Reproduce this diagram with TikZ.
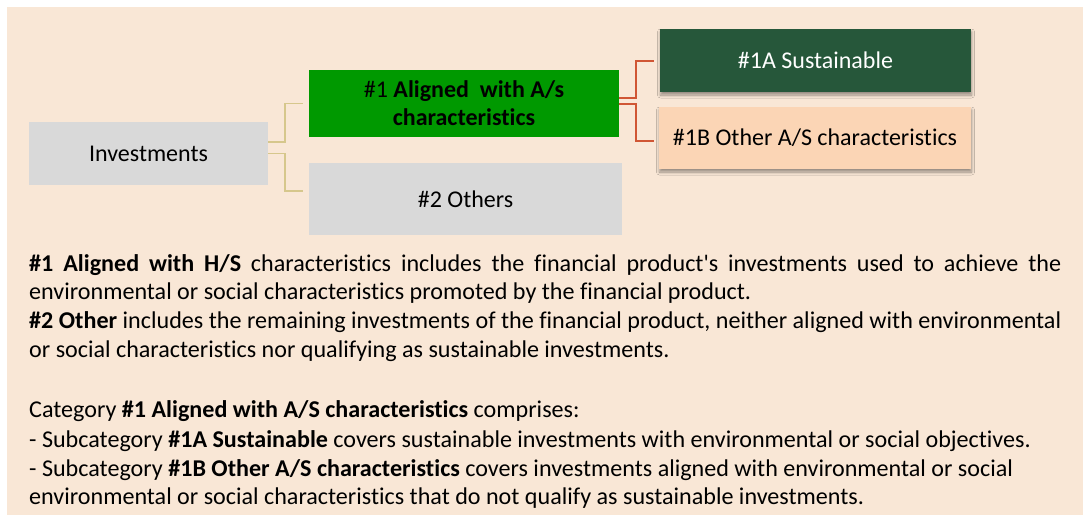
\documentclass[tikz,border=0pt]{standalone}
\usepackage{fontspec}
\setmainfont{Carlito}[Ligatures={NoCommon}]
\usetikzlibrary{shadows.blur,calc}
\definecolor{bgpeach}{HTML}{F9E7D6}
\definecolor{boxgrey}{HTML}{D9D9D9}
\definecolor{boxgreen}{HTML}{009900}
\definecolor{darkgreen}{HTML}{26573A}
\definecolor{lightpeach}{HTML}{FBD5B5}
\definecolor{tanline}{HTML}{D6C78C}
\definecolor{redline}{HTML}{D05634}
\tikzset{
  boxnode/.style={inner sep=0pt, align=center, font=\fontsize{24}{28}\selectfont},
  shadowed/.style={blur shadow={shadow xshift=0.5pt, shadow yshift=-3pt, shadow blur steps=6, shadow blur radius=3pt, shadow opacity=40}},
  bodyline/.style={inner sep=0pt, anchor=base west, font=\fontsize{24.1}{29}\selectfont},
  tanconn/.style={draw=tanline, line width=1.5pt},
  redconn/.style={draw=redline, line width=2pt},
}
\begin{document}
\begin{tikzpicture}[x=1pt,y=-1pt]
\useasboundingbox (0,0) rectangle (1083,515);
\fill[white] (0,0) rectangle (1083,515);
\fill[bgpeach] (7,7) rectangle (1083,515);

% boxes
\node[boxnode, fill=boxgrey, minimum width=239pt, minimum height=63pt] (inv) at (148.5,153.5) {Investments};
\node[boxnode, fill=boxgreen, minimum width=310pt, minimum height=67pt] (a1) at (464,103.5) {\#1 \textbf{Aligned\ \ with A/s}\\\textbf{characteristics}};
\node[boxnode, fill=boxgrey, minimum width=313pt, minimum height=72pt] (o2) at (465.5,199) {\#2 Others};
\node[boxnode, shadowed, fill=darkgreen, text=white, minimum width=311pt, minimum height=63pt] (s1) at (815.5,60.5) {\#1A Sustainable};
\node[boxnode, shadowed, fill=lightpeach, minimum width=312pt, minimum height=62pt] (b1) at (815,138) {\#1B Other A/S characteristics};

% connectors
\draw[tanconn] ([yshift=11.5pt]inv.east) -- ++(17,0) |- ([xshift=-6pt]a1.west);
\draw[tanconn] (inv.east) -- ++(17,0) |- ([xshift=-6pt,yshift=8pt]o2.west);
\draw[redconn] ([yshift=5.5pt]a1.east) -- ++(17,0) |- ([xshift=-6pt]s1.west);
\draw[redconn] (a1.east) -- ++(17,0) |- ([xshift=-5pt,yshift=-3pt]b1.west);

% body text
\node[bodyline] (t1) at (29,271) {\makebox[1032pt][s]{\textbf{\#1 Aligned with H/S} characteristics includes the financial product\textquotesingle s investments used to achieve the}};
\node[bodyline] (t2) at (29,299) {environmental or social characteristics promoted by the financial product.};
\node[bodyline] (t3) at (29,328) {\makebox[1032pt][s]{\textbf{\#2 Other} includes the remaining investments of the financial product, neither aligned with environmental}};
\node[bodyline] (t4) at (29,357) {or social characteristics nor qualifying as sustainable investments.};
\node[bodyline] (t5) at (29,417) {Category \textbf{\#1 Aligned with A/S characteristics} comprises:};
\node[bodyline] (t6) at (29,447) {- Subcategory \textbf{\#1A Sustainable} covers sustainable investments with environmental or social objectives.};
\node[bodyline] (t7) at (29,476) {- Subcategory \textbf{\#1B Other A/S characteristics} covers investments aligned with environmental or social};
\node[bodyline] (t8) at (29,504) {environmental or social characteristics that do not qualify as sustainable investments.};
\end{tikzpicture}
\end{document}
